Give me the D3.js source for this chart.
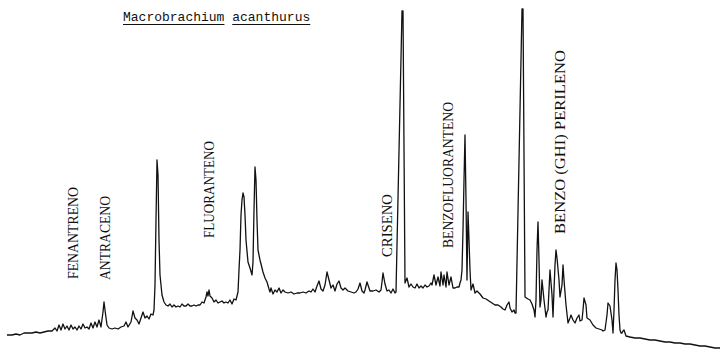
<!DOCTYPE html>
<html>
<head>
<meta charset="utf-8">
<script src="https://cdn.jsdelivr.net/npm/d3@7"></script>
<style>
  html, body { margin: 0; padding: 0; background: #fff; }
  svg { display: block; }
</style>
</head>
<body>
<svg id="chart" width="720" height="351"></svg>
<script>
// Retention (arbitrary scan units)
const retention = [7,12,16,20,24,28,32,36,40,44,48,52,55,57,59,61,63,65,67,69,71,73,75,77,79,81,83,85,87,89,91,93,95,97,99,101,103,104,105,107,109,112,115,118,121,124,126,128,131,133,135,137,139,141,143,145,147,149,151,153,154,155,156,157,158,159,160,162,164,166,168,170,172,174,176,178,180,182,184,186,188,190,192,194,196,198,200,202,204,206,207,208,209,210,212,214,216,218,220,222,224,226,228,230,232,234,236,238,239,240,241,242,243,244,245,246,248,250,252,253,254,255,256,257,258,260,262,263,265,267,269,270,271,273,275,277,279,281,283,285,288,291,294,297,300,303,306,309,311,313,315,317,319,321,323,325,327,329,331,333,335,337,339,341,343,345,348,351,354,356,358,360,362,364,365,367,370,373,376,379,381,382,383,385,387,389,391,393,395,396,402,403,405,407,409,411,413,415,417,419,421,423,425,427,429,431,432,434,436,438,440,441,443,444,446,447,449,451,453,455,457,459,460,461,462,463,464,465,466,467,468,469,470,471,473,475,477,480,483,486,489,492,495,498,501,503,505,507,509,510,512,514,515,516,522,523,525,528,530,532,534,535,536,537,538,539,540,541,542,544,546,547,548,549,550,552,553,554,555,556,557,559,560,562,563,564,566,568,570,571,573,575,577,579,580,582,583,584,586,587,590,593,596,599,602,603,605,607,608,610,612,613,614,615,616,617,618,619,620,621,622,623,624,626,630,635,640,645,650,655,660,665,670,675,680,685,690,695,700,705,710,715,720];
// Detector response (arbitrary units, 0 = bottom of the paper)
const response = [16,16,17,16,18,18,18,19,18,19,20,20,23,20,26,21,27,22,25,21,26,22,24,21,25,22,27,23,24,22,28,23,29,24,31,24,39,49,41,26,23,22,23,22,24,25,29,24,29,40,33,31,27,33,39,33,35,32,37,36,41,66,131,191,176,111,76,56,49,46,45,47,44,46,44,45,44,47,45,45,47,45,45,46,45,46,46,49,48,54,59,55,61,55,53,49,51,48,49,50,48,49,48,51,47,52,51,59,81,101,136,151,158,154,136,111,89,83,76,89,141,184,171,131,101,91,83,79,73,69,62,59,63,57,61,59,63,58,61,59,58,59,57,58,58,59,58,60,59,62,59,65,70,62,60,66,79,71,63,66,60,67,70,63,61,63,60,59,58,59,62,68,60,58,61,69,60,60,61,59,61,69,78,67,60,61,58,62,58,59,340,340,68,73,64,67,64,63,67,63,65,63,66,64,65,68,66,76,66,74,65,79,66,76,64,79,66,74,63,63,64,64,68,71,81,121,171,216,151,71,139,111,81,61,67,58,60,57,53,52,50,48,46,46,44,42,41,46,49,43,39,41,38,38,342,342,54,52,51,47,41,34,51,101,129,91,44,51,71,51,34,39,41,61,81,56,34,61,86,101,93,71,54,66,86,71,46,28,33,36,31,28,33,36,30,31,41,53,46,33,31,26,23,22,21,20,21,36,48,45,31,18,41,71,88,81,61,36,21,18,18,20,21,15,14,13,13,12,11,11,10,9,9,8,8,7,7,6,5,5,4,3,3,2];

const title = ["Macrobrachium", "acanthurus"];
const peakNames = ["FENANTRENO", "ANTRACENO", "FLUORANTENO", "CRISENO", "BENZOFLUORANTENO", "BENZO (GHI) PERILENO"];
// label anchor (retention, response at the start of the upright text)
const labelRetention = [78, 110, 214, 392, 453, 565];
const labelResponse = [72, 71, 113, 94, 103, 117];
const labelSpan = [92, 84, 97, 63, 146, 184];

const W = 720, H = 351;
const svg = d3.select("#chart");

const x = d3.scaleLinear().domain([0, 720]).range([0, W]);
const y = d3.scaleLinear().domain([0, 351]).range([H, 0]);
const len = d3.scaleLinear().domain([0, 351]).range([0, H]);

const pts = retention.map((t, i) => [t, response[i]]);

svg.append("path")
  .datum(pts)
  .attr("fill", "none")
  .attr("stroke", "#111")
  .attr("stroke-width", 1.3)
  .attr("stroke-linejoin", "round")
  .attr("d", d3.line().x(d => x(d[0])).y(d => y(d[1])));

// peak labels (vertical, reading upward)
peakNames.forEach((name, i) => {
  svg.append("text")
    .attr("transform", `translate(${x(labelRetention[i])},${y(labelResponse[i])}) rotate(-90)`)
    .attr("font-family", "'Liberation Serif', serif")
    .attr("font-size", 15)
    .attr("fill", "#111")
    .attr("textLength", len(labelSpan[i]))
    .attr("lengthAdjust", "spacingAndGlyphs")
    .text(name);
});

// title with underlined words
const titleG = svg.append("g");
let cursor = x(123);
title.forEach((w, i) => {
  const t = titleG.append("text")
    .attr("x", cursor)
    .attr("y", 21)
    .attr("font-family", "'Liberation Mono', monospace")
    .attr("font-size", 13)
    .attr("fill", "#111")
    .text(w);
  const bw = t.node().getComputedTextLength();
  titleG.append("line")
    .attr("x1", cursor).attr("x2", cursor + bw)
    .attr("y1", 24.5).attr("y2", 24.5)
    .attr("stroke", "#111").attr("stroke-width", 1);
  cursor += bw + 7.8;
});
</script>
</body>
</html>
